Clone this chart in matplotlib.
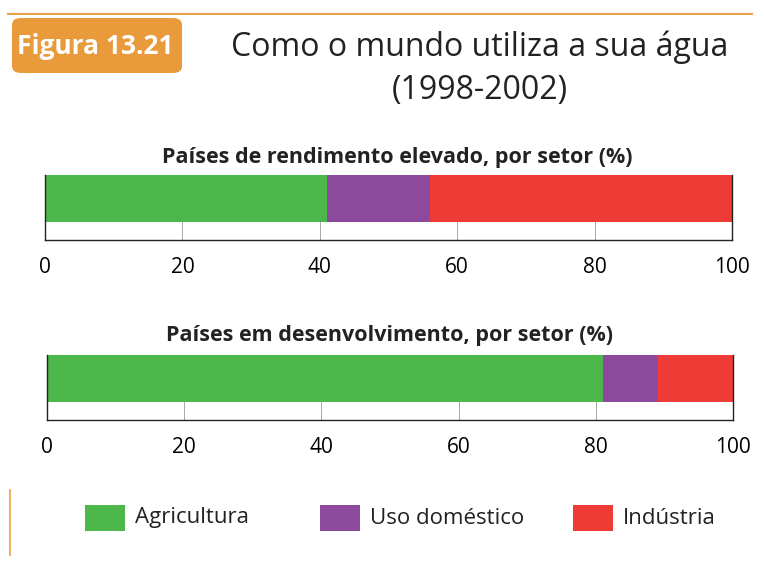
import matplotlib
matplotlib.use("Agg")
import matplotlib.pyplot as plt
from matplotlib.patches import FancyBboxPatch, Rectangle
from matplotlib.lines import Line2D

plt.rcParams['font.family'] = ['Open Sans', 'DejaVu Sans']

# data (%)
sectors = ["Agricultura", "Uso doméstico", "Indústria"]
colors = ["#4cb74a", "#8d4a9d", "#ee3b36"]
high_income = [41, 15, 44]
developing = [81, 8, 11]
panel_titles = ["Países de rendimento elevado, por setor (%)",
                "Países em desenvolvimento, por setor (%)"]
ticks = [0, 20, 40, 60, 80, 100]

W, H = 764, 563
fig = plt.figure(figsize=(W / 100, H / 100), dpi=100)
fig.patch.set_facecolor("white")

# orange frame bits and figure tab
fig.add_artist(Line2D([8 / W, 752 / W], [1 - 14 / H, 1 - 14 / H],
                      color="#e8a04a", lw=1.5))
fig.add_artist(Line2D([10 / W, 10 / W], [1 - 490 / H, 1 - 555 / H],
                      color="#e8a04a", lw=1.2))
fig.add_artist(FancyBboxPatch((12 / W, 1 - 73 / H), 170 / W, 55 / H,
                              boxstyle="round,pad=0,rounding_size=0.012",
                              facecolor="#e99a3a", edgecolor="none"))
fig.text(95 / W, 1 - 46 / H, "Figura 13.21", color="white", fontsize=19,
         fontweight="bold", ha="center", va="center")
fig.text(480 / W, 1 - 47 / H, "Como o mundo utiliza a sua água",
         fontsize=23, ha="center", va="center", color="#222222")
fig.text(480 / W, 1 - 90 / H, "(1998-2002)",
         fontsize=23, ha="center", va="center", color="#222222")

# panel geometry in pixels: (left, right, top of bar, bottom of bar, axis bottom, title x, title y)
panels = [(45, 732, 175, 222, 240, 397, 157), (47, 733, 355, 402, 420, 389, 335)]
data = [high_income, developing]

for (x0, x1, yt, yb, ya, tx, ty), vals, ttl in zip(panels, data, panel_titles):
    ax = fig.add_axes([x0 / W, 1 - ya / H, (x1 - x0) / W, (ya - yt) / H])
    frac = (yb - yt) / (ya - yt)
    left = 0
    for v, c in zip(vals, colors):
        ax.barh(0, v, left=left, height=1, color=c, edgecolor="none")
        left += v
    ax.set_xlim(0, 100)
    ax.set_ylim(0.5 - 1 / frac, 0.5)
    for t in ticks[1:-1]:
        ax.axvline(t, ymin=0, ymax=1 - frac, color="#999999", lw=0.6)
    ax.set_yticks([])
    ax.set_xticks(ticks)
    ax.tick_params(axis="x", length=0, pad=12, labelsize=15)
    for s in ax.spines.values():
        s.set_color("#222222")
        s.set_linewidth(1.0)
    ax.spines["top"].set_visible(False)
    fig.text(tx / W, 1 - ty / H, ttl, fontsize=15.5,
             fontweight="bold", ha="center", va="center", color="#222222")

# legend
legend_x = [85, 320, 573]
for lx, lab, c in zip(legend_x, sectors, colors):
    fig.add_artist(Rectangle((lx / W, 1 - 531 / H), 40 / W, 26 / H,
                             facecolor=c, edgecolor="none"))
    fig.text((lx + 50) / W, 1 - 518 / H, lab, fontsize=16, ha="left",
             va="center", color="#222222")

fig.savefig("out.png", dpi=100)
